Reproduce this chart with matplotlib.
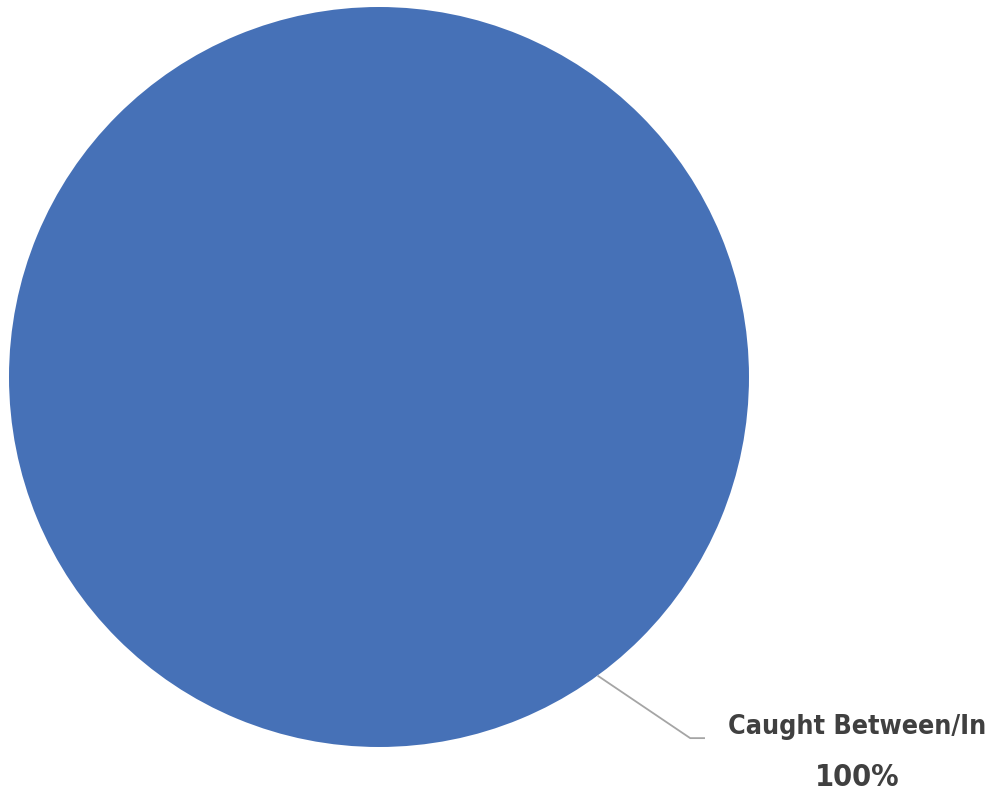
import numpy as np
import matplotlib.pyplot as plt

labels = ['Caught Between/In']
values = [100]
colors = ['#4671B7']

fig = plt.figure(figsize=(9.9, 8), dpi=100)
# square axes holding the pie (centre ~ (379, 377) px, radius ~370 px)
ax = fig.add_axes([9 / 990, 53 / 800, 740 / 990, 740 / 800])

wedges, _ = ax.pie(values, colors=colors, radius=1, startangle=90,
                   counterclock=False, wedgeprops=dict(linewidth=0))
ax.set_xlim(-1, 1)
ax.set_ylim(-1, 1)
ax.axis('off')

# leader line from the pie edge down to the label
ang = np.deg2rad(-53.8)
x0, y0 = np.cos(ang), np.sin(ang)
ax.plot([x0, 0.841, 0.881], [y0, -0.976, -0.976], color='#A5A5A5',
        lw=1.3, clip_on=False, solid_capstyle='butt')

font = ['DejaVu Sans Condensed', 'DejaVu Sans']
pct = values[0] / sum(values) * 100
ax.text(1.292, -0.946, labels[0], ha='center', va='center', fontsize=19.3,
        fontweight='bold', fontstretch='condensed', color='#404040',
        family=font, clip_on=False)
ax.text(1.292, -1.083, '{:.0f}%'.format(pct), ha='center', va='center',
        fontsize=22, fontweight='bold', fontstretch='condensed',
        color='#404040', family=font, clip_on=False)

fig.savefig('out.png', dpi=100, facecolor='white')
